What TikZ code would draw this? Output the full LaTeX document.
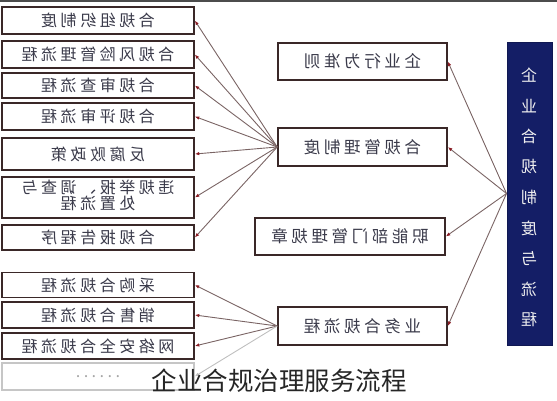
\documentclass[tikz,border=0pt]{standalone}
\usepackage{fontspec}
\usepackage{graphicx}
\usetikzlibrary{arrows.meta}
\newfontfamily\cjk[LetterSpace=22]{Noto Sans CJK SC}
\newfontfamily\cjkplain{Noto Sans CJK SC}
\definecolor{boxline}{HTML}{3A2828}
\definecolor{boxtext}{HTML}{3A3A4A}
\definecolor{conn}{HTML}{7A6464}
\definecolor{tip}{HTML}{8A1C24}
\definecolor{navy}{HTML}{141E66}
\newcommand{\mir}[1]{\reflectbox{#1}}
\begin{document}
\begin{tikzpicture}[x=1pt,y=-1pt,
  lbox/.style={draw=boxline, line width=1.6pt, fill=white, inner sep=0pt,
    minimum width=192pt, text=boxtext, font=\cjk\fontsize{16}{18.5}\selectfont},
  mbox/.style={draw=boxline, line width=1.6pt, fill=white, inner sep=0pt,
    minimum height=37pt, text=boxtext, font=\cjk\fontsize{16.5}{19}\selectfont},
  conn/.style={draw=conn, line width=0.9pt, -{Latex[length=4.5pt,width=3.5pt,color=tip]}}
]
\useasboundingbox (0,0) rectangle (557,400);
\fill[gray!60!black] (0,0) rectangle (557,1.6);

% left boxes
\node[lbox, minimum height=27pt] (l1) at (98,20.5) {\mir{合规组织制度}};
\node[lbox, minimum height=27pt] (l2) at (98,54.5) {\mir{合规风险管理流程}};
\node[lbox, minimum height=25pt] (l3) at (98,85.5) {\mir{合规审查流程}};
\node[lbox, minimum height=27pt] (l4) at (98,116.5) {\mir{合规评审流程}};
\node[lbox, minimum height=32pt] (l5) at (98,154) {\mir{反腐败政策}};
\node[lbox, minimum height=41pt] (l6) at (98,197.5) {\mir{\begin{tabular}{@{}c@{}}违规举报、调查与\\[-2pt]处置流程\end{tabular}}};
\node[lbox, minimum height=25pt] (l7) at (98,237.5) {\mir{合规报告程序}};
\node[lbox, minimum height=25pt] (l8) at (98,285) {\mir{采购合规流程}};
\node[lbox, minimum height=26pt] (l9) at (98,315) {\mir{销售合规流程}};
\node[lbox, minimum height=26pt] (l10) at (98,346) {\mir{网络安全合规流程}};
\node[lbox, minimum height=27pt, draw=gray!45, line width=1.2pt, text=gray!70] (l11) at (98,376.5) {\mir{......}};

% middle boxes
\node[mbox, minimum width=169pt] (mA) at (362.5,61.5) {\mir{企业行为准则}};
\node[mbox, minimum width=169pt, minimum height=38pt] (mB) at (362.5,147) {\mir{合规管理制度}};
\node[mbox, minimum width=190pt] (mC) at (350,236.5) {\mir{职能部门管理规章}};
\node[mbox, minimum width=169pt, minimum height=38pt] (mD) at (362.5,326) {\mir{业务合规流程}};

% right box
\node[draw=navy!80!black, line width=1pt, fill=navy, minimum width=45pt, minimum height=303pt, inner sep=0pt] (R) at (529.5,193.5) {};
\foreach \c [count=\i from 0] in {企,业,合,规,制,度,与,流,程}
  \node[text=white!88!gray, font=\cjkplain\fontsize{16}{18}\selectfont] (rc\i) at (529,75+30.6*\i) {\mir{\c}};

% connectors
\foreach \t in {mA,mB,mC,mD} \draw[conn] (R.west) -- (\t.east);
\foreach \t in {l1,l2,l3,l4,l5,l6,l7} \draw[conn] (mB.west) -- (\t.east);
\foreach \t in {l8,l9,l10} \draw[conn] (mD.west) -- (\t.east);
\draw[conn, draw=gray!50, -{Latex[length=4.5pt,width=3.5pt,color=gray!50]}] (mD.west) -- (l11.east);

% caption
\node[font=\cjkplain\fontsize{25.5}{27}\selectfont, text=black!85] (cap) at (279,381) {企业合规治理服务流程};
\end{tikzpicture}
\end{document}
